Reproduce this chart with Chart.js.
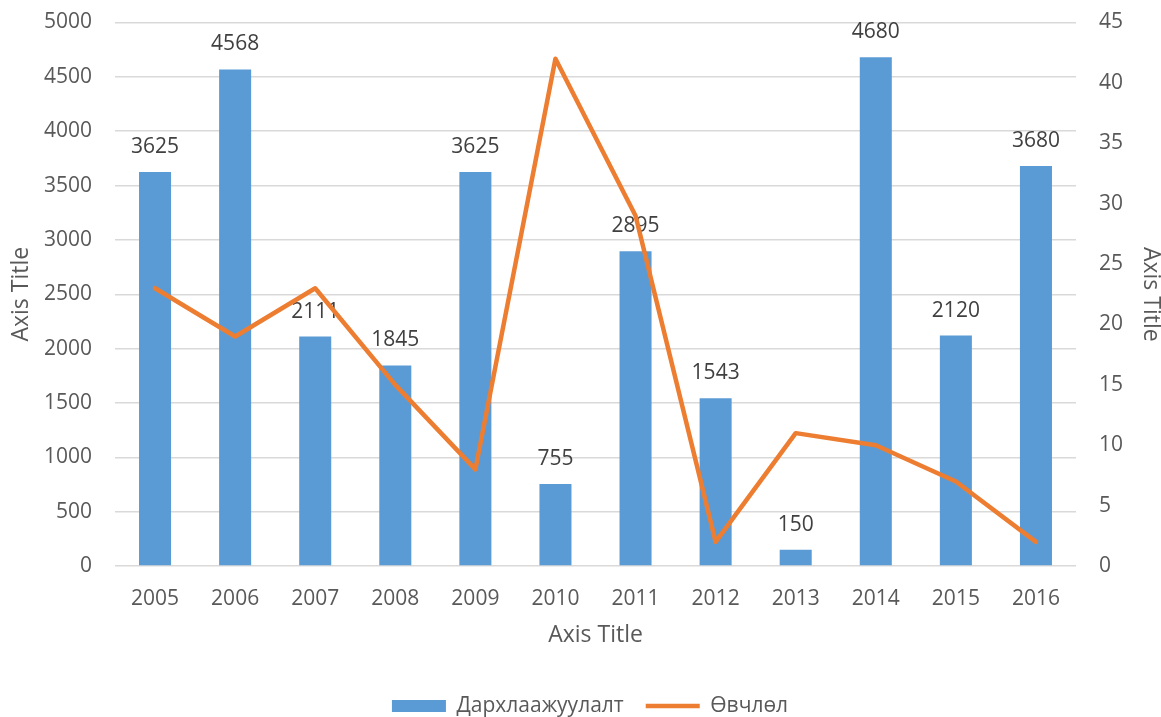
<!DOCTYPE html>
<html>
<head>
<meta charset="utf-8">
<script src="https://cdn.jsdelivr.net/npm/chart.js@4/dist/chart.umd.min.js"></script>
<style>
  html, body { margin: 0; padding: 0; background: #fff; }
  #wrap { width: 1161px; height: 717px; }
</style>
</head>
<body>
<div id="wrap"><canvas id="chart" width="1161" height="717"></canvas></div>
<script>
/* Дархлаажуулалт vs Өвчлөл — bar + line, two y axes */

const YEARS     = ['2005', '2006', '2007', '2008', '2009', '2010', '2011', '2012', '2013', '2014', '2015', '2016'];
const IMMUNIZED = [3625, 4568, 2111, 1845, 3625, 755, 2895, 1543, 150, 4680, 2120, 3680];
const CASES     = [23, 19, 23, 15, 8, 42, 29, 2, 11, 10, 7, 2];

const BAR_LABEL = 'Дархлаажуулалт';
const LINE_LABEL = 'Өвчлөл';

const BLUE   = '#5B9BD5';
const ORANGE = '#ED7D31';
const GREY   = '#595959';
const FONT   = "'Open Sans', 'DejaVu Sans', sans-serif";

const GRID = { color: '#d9d9d9', lineWidth: 1.5, drawTicks: false };
const TICK = { color: GREY, font: { family: FONT, size: 21 } };
const TITLE_FONT = { family: FONT, size: 23 };

// plain numbers on the value axes (no thousands separator)
const plainNumber = v => String(v);

// y axes: fixed width, and no extra top/bottom padding from the tick labels
function fixWidth(width) {
  return scale => {
    scale.width = width;
    scale.paddingTop = 0;
    scale.paddingBottom = 0;
  };
}

// ── value labels above the bars, drawn before the line goes on top ──
const barValueLabels = {
  id: 'barValueLabels',
  afterDatasetDraw(chart, args) {
    if (args.index !== 0) return;
    const ctx = chart.ctx;
    const values = chart.data.datasets[0].data;
    ctx.save();
    ctx.font = `21px ${FONT}`;
    ctx.fillStyle = '#404040';
    ctx.textAlign = 'center';
    ctx.textBaseline = 'middle';
    args.meta.data.forEach((bar, i) => {
      ctx.fillText(String(values[i]), bar.x, bar.y - 25);
    });
    ctx.restore();
  },
};

const ctx = document.getElementById('chart').getContext('2d');

new Chart(ctx, {
  data: {
    labels: YEARS,
    datasets: [
      {
        type: 'bar',
        label: BAR_LABEL,
        data: IMMUNIZED,
        yAxisID: 'y',
        backgroundColor: BLUE,
        borderWidth: 0,
        categoryPercentage: 1,
        barPercentage: 0.4,
        pointStyle: 'rect',
        order: 1,
      },
      {
        type: 'line',
        label: LINE_LABEL,
        data: CASES,
        yAxisID: 'y1',
        borderColor: ORANGE,
        backgroundColor: ORANGE,
        borderWidth: 4.5,
        borderCapStyle: 'round',
        borderJoinStyle: 'round',
        pointRadius: 0,
        pointHoverRadius: 0,
        pointStyle: 'line',
        tension: 0,
        order: 0,
      },
    ],
  },
  options: {
    responsive: false,
    animation: false,
    // negative right/bottom padding only nudges the legend row into place
    layout: { padding: { top: 22.5, left: 0, right: -19, bottom: -9.5 } },
    scales: {
      x: {
        grid: { display: false },
        border: { display: false },
        ticks: { ...TICK, padding: 12, maxRotation: 0 },
        title: { display: true, text: 'Axis Title', color: GREY, font: TITLE_FONT, padding: { top: 0, bottom: 24.5 } },
        afterFit(scale) { scale.height = 107.5; },
      },
      y: {
        position: 'left',
        min: 0,
        max: 5000,
        grid: GRID,
        border: { display: false },
        ticks: { ...TICK, stepSize: 500, padding: 23, callback: plainNumber },
        title: { display: true, text: 'Axis Title', color: GREY, font: TITLE_FONT, padding: { top: 8, bottom: 0 } },
        afterFit: fixWidth(115),
      },
      y1: {
        position: 'right',
        min: 0,
        max: 45,
        grid: { display: false, drawTicks: false },
        border: { display: false },
        ticks: { ...TICK, stepSize: 5, padding: 23, callback: plainNumber },
        title: { display: true, text: 'Axis Title', color: GREY, font: TITLE_FONT, padding: { top: 16, bottom: 0 } },
        afterFit: fixWidth(104),
      },
    },
    plugins: {
      legend: {
        position: 'bottom',
        labels: {
          color: GREY,
          font: { family: FONT, size: 21 },
          usePointStyle: true,
          pointStyleWidth: 54,
          boxHeight: 12,
          padding: 22,
          sort: (a, b) => a.datasetIndex - b.datasetIndex,
        },
      },
      tooltip: { enabled: false },
    },
  },
  plugins: [barValueLabels],
});
</script>
</body>
</html>
